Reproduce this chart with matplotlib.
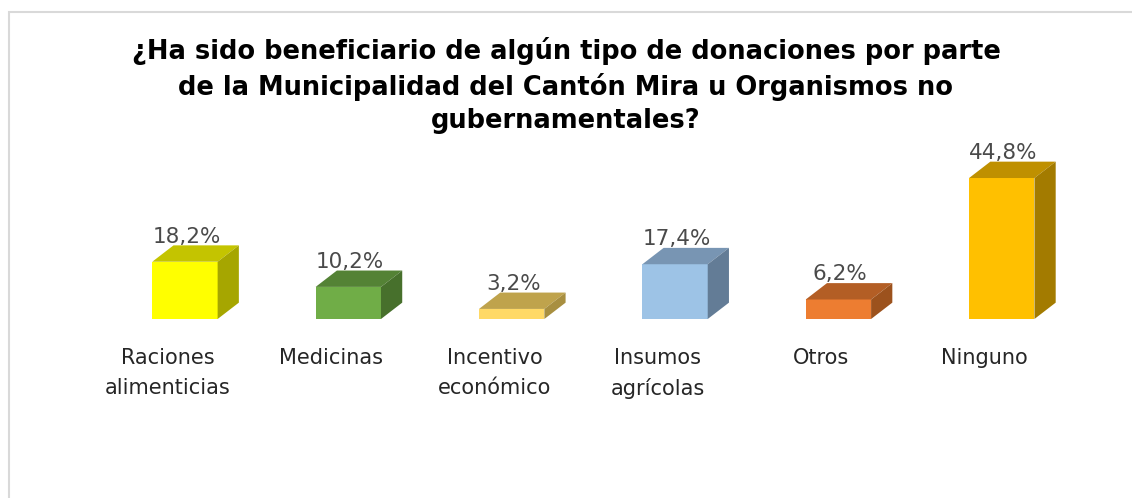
import matplotlib
matplotlib.use('Agg')
import matplotlib.pyplot as plt
from matplotlib.patches import Polygon, Rectangle

# datos
categorias = ["Raciones\nalimenticias", "Medicinas", "Incentivo\neconómico",
              "Insumos\nagrícolas", "Otros", "Ninguno"]
valores = [18.2, 10.2, 3.2, 17.4, 6.2, 44.8]
etiquetas = ["18,2%", "10,2%", "3,2%", "17,4%", "6,2%", "44,8%"]
col_frente = ["#FFFF00", "#70AD47", "#FFD966", "#9DC3E6", "#ED7D31", "#FFC000"]
col_arriba = ["#C4C400", "#548235", "#BFA34C", "#7895B3", "#B35E25", "#BF9000"]
col_lado = ["#A6A600", "#47702C", "#A88F40", "#637C96", "#9C521D", "#A37B00"]

titulo = ("¿Ha sido beneficiario de algún tipo de donaciones por parte\n"
          "de la Municipalidad del Cantón Mira u Organismos no\n"
          "gubernamentales?")

fig = plt.figure(figsize=(11.32, 4.98), dpi=100)

# marco gris del grafico
fig.patches.append(Rectangle((8.5 / 1132, -0.1), 1.2, (498 - 12.5) / 498 + 0.1,
                             transform=fig.transFigure, fill=False,
                             edgecolor="#D9D9D9", linewidth=1.5))

ax = fig.add_axes([100 / 1132, (498 - 319) / 498, 990 / 1132, 169 / 498])
ax.set_xlim(-0.52, 5.54)
ax.set_ylim(0, 53.7)
ax.axis("off")

media = 0.200   # medio ancho de la cara frontal
dx = 0.130      # profundidad horizontal
dy = 5.2        # profundidad vertical (en %)

for i, v in enumerate(valores):
    x0, x1 = i - media, i + media
    ax.add_patch(Polygon([(x0, 0), (x1, 0), (x1, v), (x0, v)], closed=True,
                         facecolor=col_frente[i], edgecolor="none"))
    ax.add_patch(Polygon([(x0, v), (x1, v), (x1 + dx, v + dy), (x0 + dx, v + dy)],
                         closed=True, facecolor=col_arriba[i], edgecolor="none"))
    ax.add_patch(Polygon([(x1, 0), (x1 + dx, dy), (x1 + dx, v + dy), (x1, v)],
                         closed=True, facecolor=col_lado[i], edgecolor="none"))
    ax.text(i + 0.01, v + dy - 0.4, etiquetas[i], ha="center", va="bottom",
            fontsize=15.5, color="#4A4A4A")
    ax.text(i - 0.105, -9.3, categorias[i], ha="center", va="top",
            fontsize=15, color="#262626", linespacing=1.6, clip_on=False)

fig.text(0.5, 0.925, titulo, ha="center", va="top", fontsize=18.5,
         fontweight="bold", color="black", linespacing=1.35)

fig.savefig("out.png", dpi=100)
